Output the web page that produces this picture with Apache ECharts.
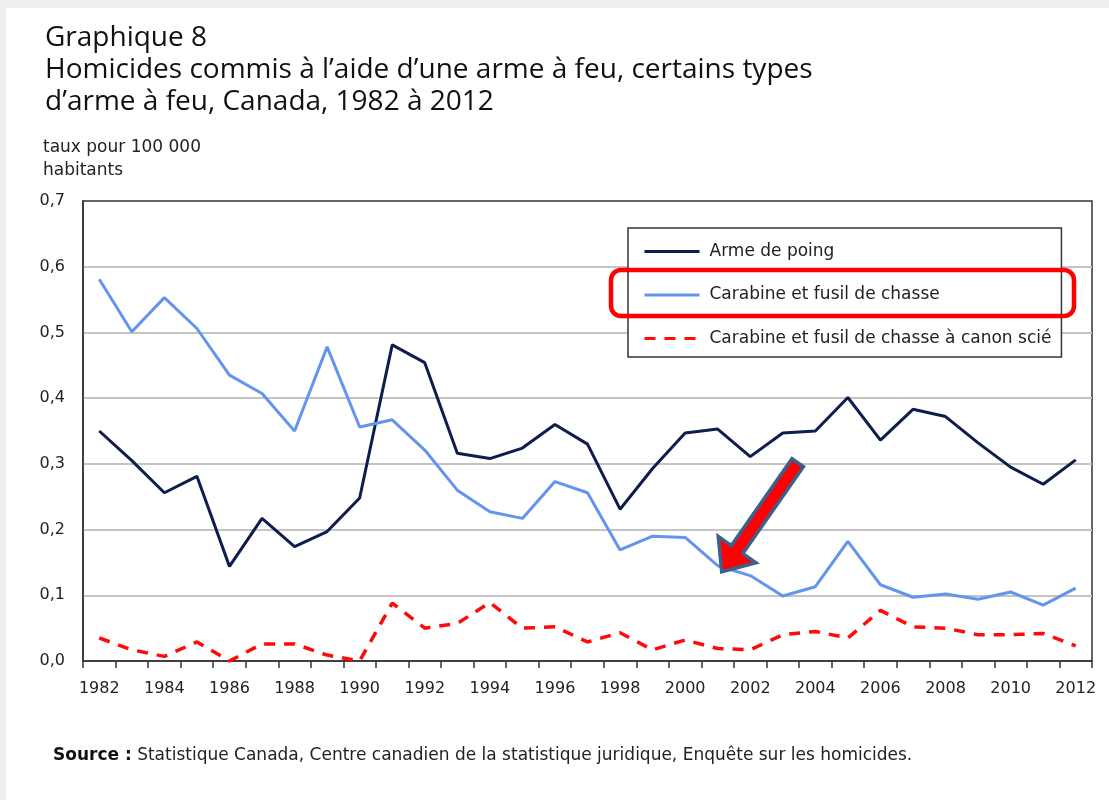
<!DOCTYPE html>
<html>
<head>
<meta charset="utf-8">
<script src="https://cdn.jsdelivr.net/npm/echarts@6/dist/echarts.min.js"></script>
<style>
  html, body { margin: 0; padding: 0; background: #efefef; }
  #chart { width: 1109px; height: 800px; }
</style>
</head>
<body>
<div id="chart"></div>
<script>
// years on the x axis
const years = ["1982","1983","1984","1985","1986","1987","1988","1989","1990","1991",
  "1992","1993","1994","1995","1996","1997","1998","1999","2000","2001",
  "2002","2003","2004","2005","2006","2007","2008","2009","2010","2011","2012"];

// rate per 100 000
const armeDePoing = [0.350, 0.305, 0.256, 0.281, 0.144, 0.217, 0.174, 0.197, 0.248, 0.481,
  0.454, 0.316, 0.308, 0.324, 0.360, 0.330, 0.231, 0.293, 0.347, 0.353,
  0.311, 0.347, 0.350, 0.401, 0.336, 0.383, 0.372, 0.332, 0.295, 0.269, 0.306];

const carabine = [0.581, 0.501, 0.553, 0.506, 0.435, 0.407, 0.350, 0.478, 0.356, 0.367,
  0.321, 0.260, 0.227, 0.217, 0.273, 0.256, 0.169, 0.190, 0.188, 0.145,
  0.130, 0.099, 0.113, 0.182, 0.116, 0.097, 0.102, 0.094, 0.105, 0.085, 0.111];

const canonScie = [0.035, 0.017, 0.007, 0.029, 0.000, 0.026, 0.026, 0.009, 0.000, 0.088,
  0.050, 0.057, 0.089, 0.050, 0.052, 0.029, 0.043, 0.017, 0.032, 0.019,
  0.017, 0.040, 0.045, 0.035, 0.077, 0.052, 0.050, 0.040, 0.040, 0.042, 0.023];

const seriesNames = ["Arme de poing", "Carabine et fusil de chasse",
  "Carabine et fusil de chasse à canon scié"];

const FONT = "DejaVu Sans";

const chart = echarts.init(document.getElementById("chart"));

const option = {
  backgroundColor: "#efefef",
  animation: false,
  title: [
    {
      // main title, 3 lines
      text: "Graphique 8\nHomicides commis à l’aide d’une arme à feu, certains types\nd’arme à feu, Canada, 1982 à 2012",
      left: 45,
      top: 22,
      padding: 0,
      textStyle: { fontFamily: "Open Sans", fontSize: 28, lineHeight: 32, fontWeight: "normal", color: "#111" }
    },
    {
      // y axis unit
      text: "taux pour 100 000\nhabitants",
      left: 43,
      top: 136,
      padding: 0,
      textStyle: { fontFamily: FONT, fontSize: 17, lineHeight: 23, fontWeight: "normal", color: "#222" }
    },
    {
      text: "{b|Source :} Statistique Canada, Centre canadien de la statistique juridique, Enquête sur les homicides.",
      left: 53,
      top: 747,
      padding: 0,
      textStyle: {
        fontFamily: FONT, fontSize: 17, fontWeight: "normal", color: "#222",
        rich: { b: { fontFamily: FONT, fontSize: 17, fontWeight: "bold", color: "#111" } }
      }
    }
  ],
  legend: {
    orient: "vertical",
    left: 628,
    top: 228,
    padding: [15, 10, 10, 15],
    itemGap: 26.5,
    itemWidth: 55,
    itemHeight: 20,
    borderColor: "#333",
    borderWidth: 1.5,
    backgroundColor: "#fff",
    itemStyle: { opacity: 0 },
    lineStyle: { width: 3 },
    data: seriesNames,
    textStyle: { fontFamily: FONT, fontSize: 17, color: "#222", padding: [0, 0, 0, 5] }
  },
  grid: {
    left: 83,
    right: 17,
    top: 201,
    bottom: 139,
    show: true,
    backgroundColor: "#fff",
    borderColor: "#333",
    borderWidth: 1.5
  },
  xAxis: {
    type: "category",
    data: years,
    boundaryGap: true,
    axisLine: { lineStyle: { color: "#333", width: 1.5 } },
    axisTick: { show: true, interval: 0, length: 7, lineStyle: { color: "#333", width: 1.5 } },
    axisLabel: { interval: 1, margin: 20, fontFamily: FONT, fontSize: 16, color: "#222" },
    splitLine: { show: false }
  },
  yAxis: {
    type: "value",
    min: 0,
    max: 0.7,
    interval: 0.1,
    axisLine: { show: true, lineStyle: { color: "#333", width: 1.5 } },
    axisTick: { show: false },
    axisLabel: {
      margin: 18,
      fontFamily: FONT, fontSize: 16, color: "#222",
      formatter: (v) => v.toFixed(1).replace(".", ",")
    },
    splitLine: { show: true, showMaxLine: false, showMinLine: false, lineStyle: { color: "#c4c4c4", width: 2 } }
  },
  series: [
    {
      name: seriesNames[0],
      type: "line",
      data: armeDePoing,
      symbol: "none",
      lineStyle: { color: "#0e1c4e", width: 3 },
      itemStyle: { color: "#0e1c4e" },
      z: 3
    },
    {
      name: seriesNames[1],
      type: "line",
      data: carabine,
      symbol: "none",
      lineStyle: { color: "#6495ed", width: 3 },
      itemStyle: { color: "#6495ed" },
      z: 3
    },
    {
      name: seriesNames[2],
      type: "line",
      data: canonScie,
      symbol: "none",
      lineStyle: { color: "#ff0a0a", width: 3.5, type: [11, 9] },
      itemStyle: { color: "#ff0a0a" },
      z: 3
    }
  ]
};

chart.setOption(option);

// annotations: red box round the 2nd legend entry, arrow pointing at 2001
const tip = chart.convertToPixel({ seriesIndex: 1 }, [19, carabine[19]]);
const tx = tip[0] + 4, ty = tip[1] + 6;
const len = 133, headLen = 27, headHalf = 23, shaftHalf = 7;
const ux = 76 / 133, uy = -109 / 133; // tip -> tail
const nx = -uy, ny = ux;
const pt = (a, b) => [tx + a * ux + b * nx, ty + a * uy + b * ny];
const arrowPts = [
  pt(0, 0),
  pt(headLen, headHalf),
  pt(headLen, shaftHalf),
  pt(len, shaftHalf),
  pt(len, -shaftHalf),
  pt(headLen, -shaftHalf),
  pt(headLen, -headHalf)
];

chart.setOption({
  graphic: [
    {
      type: "rect",
      z: -100,
      shape: { x: 6, y: 8, width: 1109, height: 800 },
      style: { fill: "#fff" },
      silent: true
    },
    {
      type: "rect",
      z: 100,
      shape: { x: 611, y: 270, width: 463, height: 46, r: 10 },
      style: { fill: "none", stroke: "#ff0000", lineWidth: 4.5 },
      silent: true
    },
    {
      type: "polygon",
      z: 100,
      shape: { points: arrowPts },
      style: { fill: "#ff0000", stroke: "#3e5f8c", lineWidth: 3.5, lineJoin: "miter" },
      silent: true
    }
  ]
});
</script>
</body>
</html>
